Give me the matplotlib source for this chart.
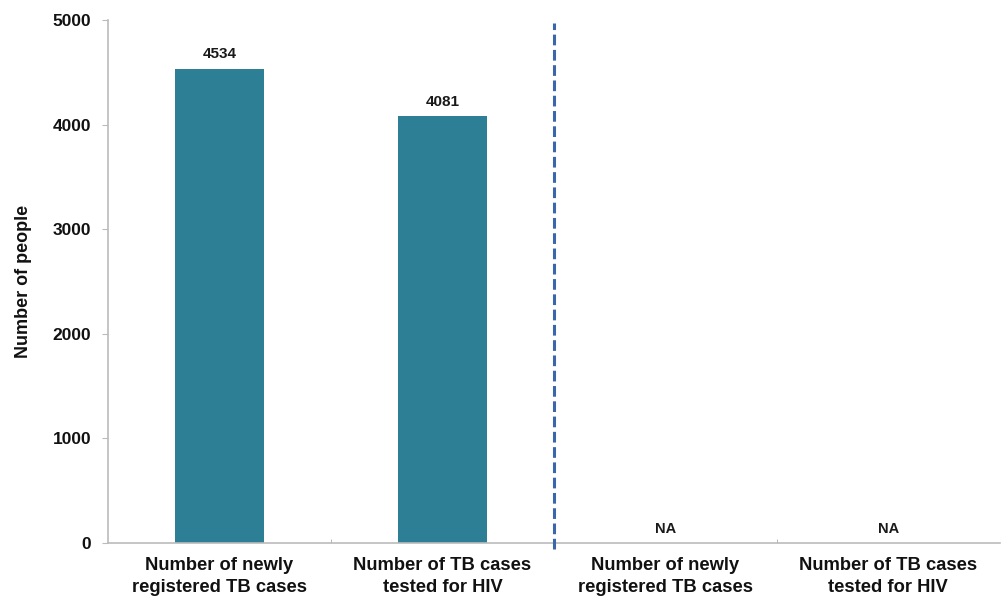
import matplotlib
matplotlib.use("Agg")
import matplotlib.pyplot as plt
import numpy as np

categories = ["Number of newly\nregistered TB cases", "Number of TB cases\ntested for HIV",
              "Number of newly\nregistered TB cases", "Number of TB cases\ntested for HIV"]
values = [4534, 4081, 0, 0]
value_labels = ["4534", "4081", "NA", "NA"]
yticks = [0, 1000, 2000, 3000, 4000, 5000]

plt.rcParams['font.family'] = ['Liberation Sans', 'DejaVu Sans']

fig = plt.figure(figsize=(10.02, 6), dpi=100)
ax = fig.add_axes([0.1078, 0.095, 0.89, 0.8717])

x = np.arange(len(categories))
bar_color = "#2C7F95"
ax.bar(x, values, width=0.40, color=bar_color, zorder=2)

for xi, v, lab in zip(x, values, value_labels):
    ax.text(xi, v + 70, lab, ha='center', va='bottom',
            fontsize=10.5 if lab == "NA" else 11, fontweight='bold', color='#1a1a1a')

ax.axvline(1.5, ymin=-0.012, ymax=0.995, color='#3C66AC', linestyle=(0, (3.5, 1.5)),
           linewidth=2.2, clip_on=False, zorder=3)

ax.set_xlim(-0.5, 3.5)
ax.set_ylim(0, 5000)
ax.set_yticks(yticks)
ax.set_yticklabels([str(t) for t in yticks], fontsize=12.5, fontweight='bold', color='#111111')
ax.set_xticks(x)
ax.set_xticklabels(categories, fontsize=13.2, fontweight='bold', color='#111111', linespacing=1.4)
ax.set_xticks([0.5, 1.5, 2.5], minor=True)
ax.tick_params(axis='x', which='major', length=0, pad=10)
ax.tick_params(axis='x', which='minor', length=3, direction='in', color='#AAAAAA')
ax.tick_params(axis='y', length=4, direction='out', color='#BBBBBB', pad=8)

ax.set_ylabel("Number of people", fontsize=13, fontweight='bold', color='#111111', labelpad=15)

for s in ['top', 'right']:
    ax.spines[s].set_visible(False)
for s in ['left', 'bottom']:
    ax.spines[s].set_color('#BBBBBB')
    ax.spines[s].set_linewidth(1.2)

fig.savefig("out.png", dpi=100, facecolor='white')
